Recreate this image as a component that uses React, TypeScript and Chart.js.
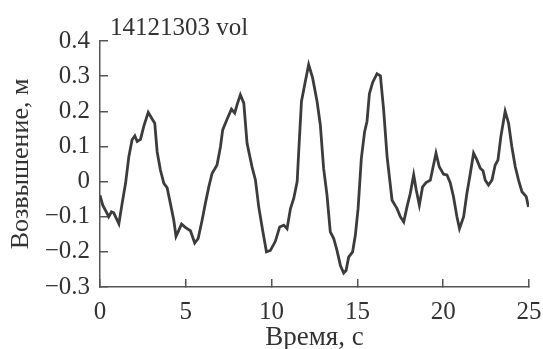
import React, { useEffect, useRef } from "react";
import { Chart, registerables } from "chart.js";

Chart.register(...registerables);

const seriesLabel = "14121303 vol";
const xAxisTitle = "Время, с";
const yAxisTitle = "Возвышение, м";

const times = [
  0.0, 0.16, 0.42, 0.51, 0.67, 0.8, 1.1, 1.29, 1.49, 1.68, 1.87, 2.03, 2.17, 2.36, 2.55, 2.81,
  3.04, 3.19, 3.33, 3.52, 3.72, 3.91, 4.1, 4.3, 4.43, 4.59, 4.75, 4.94, 5.08, 5.27, 5.52, 5.72,
  5.95, 6.14, 6.34, 6.53, 6.82, 7.02, 7.15, 7.41, 7.66, 7.85, 7.99, 8.18, 8.38, 8.57, 8.86, 9.06,
  9.25, 9.48, 9.7, 9.93, 10.22, 10.47, 10.71, 10.9, 11.1, 11.29, 11.49, 11.58, 11.74, 11.93, 12.16,
  12.39, 12.65, 12.84, 13.03, 13.23, 13.42, 13.62, 13.81, 14.01, 14.2, 14.34, 14.49, 14.72, 14.88,
  15.04, 15.23, 15.42, 15.56, 15.7, 15.89, 16.14, 16.34, 16.53, 16.73, 17.02, 17.31, 17.5, 17.7,
  17.89, 18.08, 18.28, 18.43, 18.61, 18.8, 19.0, 19.25, 19.58, 19.77, 20.02, 20.22, 20.41, 20.6,
  20.8, 20.95, 21.19, 21.38, 21.58, 21.77, 21.97, 22.16, 22.32, 22.45, 22.64, 22.84, 23.03, 23.19,
  23.36, 23.61, 23.81, 24.0, 24.2, 24.39, 24.59, 24.84, 24.97,
];

const elevation = [
  -0.039, -0.067, -0.091, -0.1, -0.086, -0.089, -0.12, -0.062, -0.005, 0.071, 0.119, 0.13, 0.114,
  0.12, 0.157, 0.197, 0.178, 0.166, 0.085, 0.033, -0.005, -0.017, -0.062, -0.11, -0.156, -0.139,
  -0.121, -0.129, -0.134, -0.14, -0.175, -0.162, -0.11, -0.062, -0.015, 0.023, 0.047, 0.099, 0.147,
  0.178, 0.206, 0.195, 0.219, 0.247, 0.223, 0.109, 0.042, 0.004, -0.072, -0.139, -0.2, -0.196,
  -0.17, -0.129, -0.124, -0.134, -0.077, -0.048, 0.0, 0.085, 0.228, 0.276, 0.333, 0.295, 0.228,
  0.161, 0.038, -0.039, -0.143, -0.162, -0.196, -0.239, -0.26, -0.253, -0.215, -0.2, -0.153, -0.077,
  0.066, 0.142, 0.171, 0.25, 0.282, 0.307, 0.301, 0.204, 0.071, -0.053, -0.077, -0.1, -0.115,
  -0.072, -0.034, 0.019, -0.024, -0.067, -0.015, -0.003, 0.004, 0.081, 0.042, 0.021, 0.019, -0.003,
  -0.043, -0.1, -0.134, -0.1, -0.034, 0.023, 0.081, 0.061, 0.038, 0.031, 0.004, -0.01, 0.004, 0.047,
  0.061, 0.128, 0.2, 0.166, 0.099, 0.042, 0.004, -0.029, -0.043, -0.072,
];

const xMin = 0;
const xMax = 25;
const xStep = 5;
const yMin = -0.3;
const yMax = 0.4;
const yStep = 0.1;

const FONT = "'Liberation Serif', 'DejaVu Serif', serif";
const TEXT = "#333333";
const AXIS = "#555555";

export default function App() {
  const ref = useRef<HTMLCanvasElement | null>(null);

  useEffect(() => {
    if (!ref.current) return;
    const labelPlugin = {
      id: "seriesLabel",
      afterDraw(chart: any) {
        const ctx = chart.ctx;
        ctx.save();
        ctx.font = `25px ${FONT}`;
        ctx.fillStyle = TEXT;
        ctx.textAlign = "left";
        ctx.textBaseline = "alphabetic";
        ctx.fillText(seriesLabel, chart.chartArea.left + 10, 34.5);
        ctx.restore();
      },
    };
    const chart = new Chart(ref.current, {
      type: "line",
      data: {
        datasets: [
          {
            data: times.map((t, i) => ({ x: t, y: elevation[i] })),
            borderColor: "#3c3c3c",
            borderWidth: 2.8,
            pointRadius: 0,
            tension: 0,
            fill: false,
          },
        ],
      },
      options: {
        animation: false,
        responsive: false,
        maintainAspectRatio: false,
        layout: { padding: { top: 41, right: 0, left: 0, bottom: 0 } },
        plugins: { legend: { display: false }, tooltip: { enabled: false }, title: { display: false } },
        scales: {
          x: {
            type: "linear",
            min: xMin,
            max: xMax,
            afterFit: (s: any) => {
              s.height = 62;
              s.paddingRight = 14;
              s.paddingLeft = 0;
            },
            ticks: {
              stepSize: xStep,
              color: TEXT,
              font: { family: FONT, size: 25 },
              padding: 18,
              maxRotation: 0,
            },
            grid: {
              display: true,
              drawOnChartArea: false,
              drawTicks: true,
              tickLength: -8,
              color: AXIS,
              lineWidth: 1.5,
            },
            border: { display: true, color: AXIS, width: 1.5 },
            title: {
              display: true,
              text: xAxisTitle,
              color: TEXT,
              font: { family: FONT, size: 27, lineHeight: 0.84 },
              padding: { top: 0, bottom: 0 },
            },
          },
          y: {
            type: "linear",
            min: yMin,
            max: yMax,
            afterFit: (s: any) => {
              s.width = 100;
            },
            ticks: {
              stepSize: yStep,
              color: TEXT,
              font: { family: FONT, size: 25 },
              padding: 18,
              callback: (v: any) => {
                const n = Math.round(Number(v) * 10) / 10;
                if (n === 0) return "0";
                return n.toFixed(1).replace("-", "\u2212");
              },
            },
            grid: {
              display: true,
              drawOnChartArea: false,
              drawTicks: true,
              tickLength: -8,
              color: AXIS,
              lineWidth: 1.5,
            },
            border: { display: true, color: AXIS, width: 1.5 },
            title: {
              display: true,
              text: yAxisTitle,
              color: TEXT,
              font: { family: FONT, size: 26, lineHeight: 1.2 },
              padding: { top: 6, bottom: 0 },
            },
          },
        },
      },
      plugins: [labelPlugin],
    });
    return () => chart.destroy();
  }, []);

  return (
    <div style={{ position: "fixed", left: 0, top: 0, width: 543, height: 349, background: "#fff" }}>
      <canvas ref={ref} width={543} height={349} style={{ width: 543, height: 349, display: "block" }} />
    </div>
  );
}
